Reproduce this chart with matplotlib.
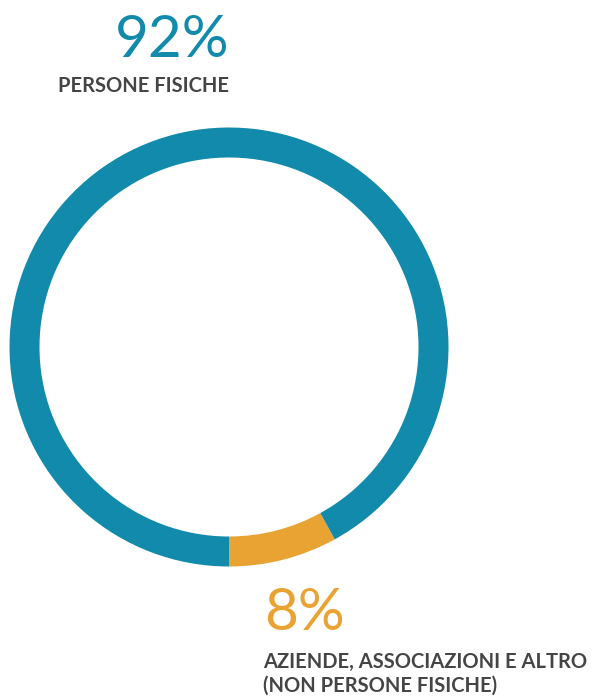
import matplotlib
matplotlib.use("Agg")
import matplotlib.pyplot as plt

# share of donors
label_small = ["AZIENDE, ASSOCIAZIONI E ALTRO", "(NON PERSONE FISICHE)"]
label_big = "PERSONE FISICHE"
values = [8, 92]
colors = ["#e8a332", "#118aab"]
pct_text = ["8%", "92%"]

W, H = 600, 696
fig = plt.figure(figsize=(W / 100, H / 100), dpi=100)
ax = fig.add_axes([0, 0, 1, 1])

cx, cy = 229, H - 347
ax.pie(values, colors=colors, startangle=-90, counterclock=True,
       center=(cx, cy), radius=219.5,
       wedgeprops=dict(width=30, linewidth=0))
ax.set_xlim(0, W)
ax.set_ylim(0, H)
ax.set_aspect("auto")
ax.axis("off")

num_font = dict(family="Lato", weight="normal", fontsize=42)
lab_font = dict(family="Lato", weight="bold", fontsize=14.5, color="#454545")

# big share, top
ax.text(229, H - 57, pct_text[1], color=colors[1], ha="right", va="baseline", **num_font)
ax.text(229, H - 92, label_big, ha="right", va="baseline", **lab_font)

# small share, bottom right
ax.text(264, H - 630, pct_text[0], color=colors[0], ha="left", va="baseline", **num_font)
ax.text(263, H - 668, label_small[0], ha="left", va="baseline", **lab_font)
ax.text(263, H - 692, label_small[1], ha="left", va="baseline", **lab_font)

fig.savefig("out.png", dpi=100)
